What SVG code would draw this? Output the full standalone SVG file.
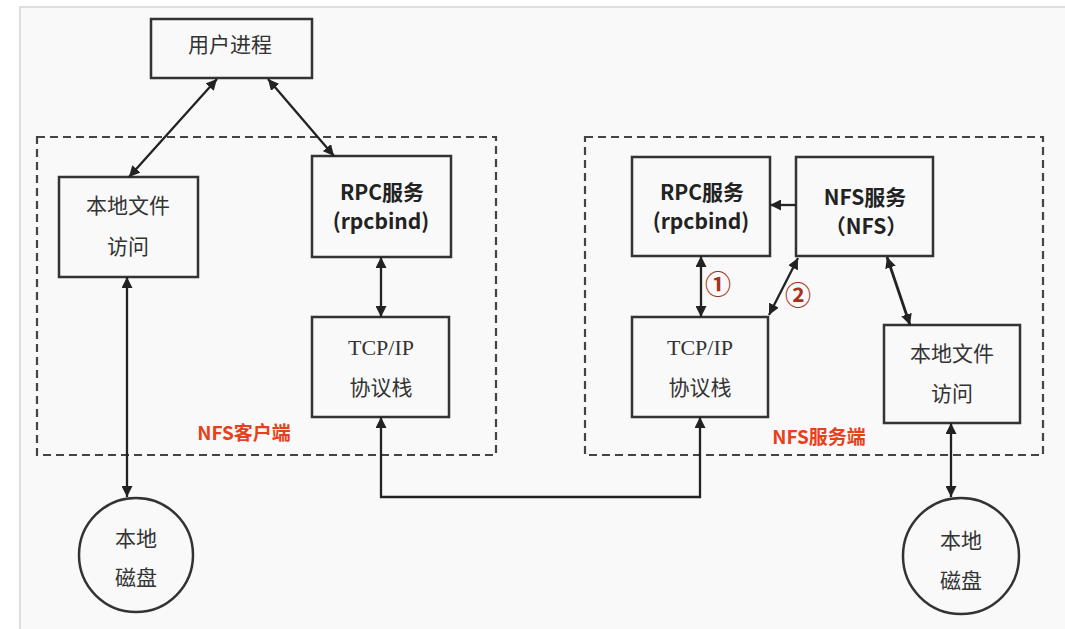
<svg xmlns="http://www.w3.org/2000/svg" width="1065" height="629" viewBox="0 0 1065 629">
<defs>
<marker id="ah" viewBox="0 0 10 10" refX="10" refY="5" markerWidth="11" markerHeight="11" markerUnits="userSpaceOnUse" orient="auto-start-reverse"><path d="M0,0 L10,5 L0,10 z" fill="#222"/></marker>
<style>
.box{fill:none;stroke:#333;stroke-width:2.5}
.dash{fill:none;stroke:#444;stroke-width:2.2;stroke-dasharray:8 5}
.t{font-family:"Noto Sans CJK SC","Noto Sans",sans-serif;font-size:21px;fill:#333;text-anchor:middle}
.b{font-weight:bold;fill:#222}
.s{font-family:"Liberation Serif","Noto Sans CJK SC",serif;font-size:22px}
.red{font-family:"Noto Sans CJK SC",sans-serif;font-size:19px;font-weight:bold;fill:#e8401c;text-anchor:middle}
.num{font-family:"Noto Sans CJK SC",sans-serif;font-size:26px;fill:#a8321c;text-anchor:middle;font-weight:bold}
.c{fill:none;stroke:#222;stroke-width:2.3}
.c2{fill:none;stroke:#222;stroke-width:2.3;marker-end:url(#ah)}
.c3{fill:none;stroke:#222;stroke-width:2.3;marker-start:url(#ah);marker-end:url(#ah)}
</style>
</defs>
<rect x="0" y="0" width="1065" height="629" fill="#ffffff"/>
<rect x="20" y="7" width="1050" height="630" fill="#f9f9f9" stroke="#d4d4d4" stroke-width="1.5"/>

<g id="client-region">
<rect class="dash" x="37" y="137" width="459" height="318"/>
<text class="red" x="244" y="440">NFS客户端</text>
</g>
<g id="server-region">
<rect class="dash" x="585" y="137" width="458" height="318"/>
<text class="red" x="819" y="444">NFS服务端</text>
</g>

<g id="user-process">
<rect class="box" x="151" y="19" width="161" height="59"/>
<text class="t" x="230" y="52">用户进程</text>
</g>
<g id="client-local-file">
<rect class="box" x="59" y="177" width="139" height="100"/>
<text class="t" x="128" y="213">本地文件</text>
<text class="t" x="128" y="254">访问</text>
</g>
<g id="client-rpc">
<rect class="box" x="312" y="156" width="139" height="101"/>
<text class="t b" x="382" y="200">RPC服务</text>
<text class="t b" x="381" y="229">(rpcbind)</text>
</g>
<g id="client-tcpip">
<rect class="box" x="312" y="317" width="137" height="100"/>
<text class="t s" x="381" y="355">TCP/IP</text>
<text class="t" x="381" y="395">协议栈</text>
</g>
<g id="client-disk">
<circle class="box" cx="136" cy="555" r="57"/>
<text class="t" x="136" y="546">本地</text>
<text class="t" x="136" y="585">磁盘</text>
</g>

<g id="server-rpc">
<rect class="box" x="632" y="157" width="138" height="99"/>
<text class="t b" x="702" y="200">RPC服务</text>
<text class="t b" x="701" y="229">(rpcbind)</text>
</g>
<g id="server-nfs">
<rect class="box" x="796" y="157" width="137" height="99"/>
<text class="t b" x="865" y="205">NFS服务</text>
<text class="t b" x="866" y="234">（NFS）</text>
</g>
<g id="server-tcpip">
<rect class="box" x="632" y="317" width="136" height="100"/>
<text class="t s" x="700" y="355">TCP/IP</text>
<text class="t" x="700" y="395">协议栈</text>
</g>
<g id="server-local-file">
<rect class="box" x="884" y="325" width="136" height="98"/>
<text class="t" x="952" y="361">本地文件</text>
<text class="t" x="952" y="401">访问</text>
</g>
<g id="server-disk">
<circle class="box" cx="961" cy="556" r="58"/>
<text class="t" x="961" y="548">本地</text>
<text class="t" x="961" y="588">磁盘</text>
</g>

<g id="connectors">
<line class="c3" x1="217" y1="79" x2="129" y2="177"/>
<line class="c3" x1="268" y1="79" x2="334" y2="156"/>
<line class="c3" x1="381" y1="257" x2="381" y2="317"/>
<line class="c3" x1="127" y1="277" x2="127" y2="497"/>
<path class="c3" d="M381,417 L381,497 L700,497 L700,417"/>
<line class="c3" x1="701" y1="256" x2="701" y2="317"/>
<line class="c3" x1="798" y1="258" x2="769" y2="315"/>
<line class="c2" x1="796" y1="205" x2="770" y2="205"/>
<line class="c3" x1="887" y1="257" x2="910" y2="325" style="stroke-width:2.8"/>
<line class="c3" x1="951" y1="423" x2="951" y2="497"/>
<text class="num" x="718" y="294">①</text>
<text class="num" x="798" y="305">②</text>
</g>
</svg>
